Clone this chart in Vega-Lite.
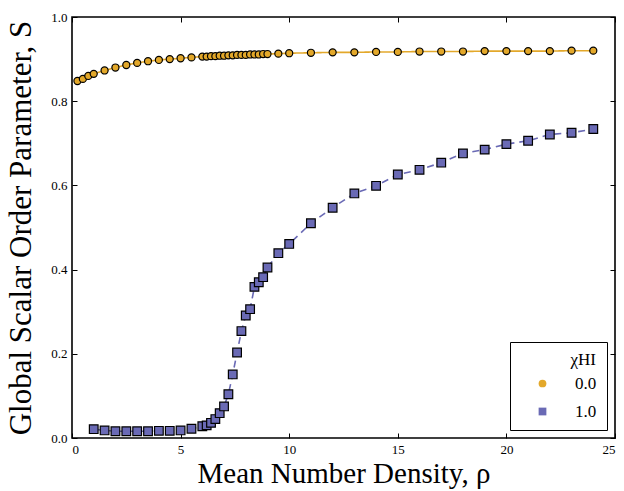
{
  "$schema": "https://vega.github.io/schema/vega-lite/v6.json",
  "width": 543,
  "height": 421,
  "autosize": "none",
  "padding": {"left": 72, "top": 17, "right": 9, "bottom": 53},
  "background": "white",
  "config": {
    "font": "Liberation Serif",
    "view": {"stroke": "black", "strokeWidth": 1.6},
    "axis": {
      "grid": false,
      "domain": false,
      "tickColor": "black",
      "tickSize": -5,
      "tickWidth": 1,
      "labelFont": "Liberation Serif",
      "labelFontSize": 13,
      "labelColor": "black",
      "titleFont": "Liberation Serif",
      "titleFontSize": 29,
      "titleFontWeight": "normal",
      "titleColor": "black"
    },
    "legend": {
      "labelFont": "Liberation Serif",
      "titleFont": "Liberation Serif"
    }
  },
  "data": {
    "values": [
      {"rho": 0.25, "S": 0.848, "chi": "0.0"},
      {"rho": 0.5, "S": 0.853, "chi": "0.0"},
      {"rho": 0.75, "S": 0.860, "chi": "0.0"},
      {"rho": 1.0, "S": 0.865, "chi": "0.0"},
      {"rho": 1.5, "S": 0.873, "chi": "0.0"},
      {"rho": 2.0, "S": 0.880, "chi": "0.0"},
      {"rho": 2.5, "S": 0.886, "chi": "0.0"},
      {"rho": 3.0, "S": 0.891, "chi": "0.0"},
      {"rho": 3.5, "S": 0.895, "chi": "0.0"},
      {"rho": 4.0, "S": 0.898, "chi": "0.0"},
      {"rho": 4.5, "S": 0.900, "chi": "0.0"},
      {"rho": 5.0, "S": 0.902, "chi": "0.0"},
      {"rho": 5.5, "S": 0.904, "chi": "0.0"},
      {"rho": 6.0, "S": 0.906, "chi": "0.0"},
      {"rho": 6.2, "S": 0.906, "chi": "0.0"},
      {"rho": 6.4, "S": 0.907, "chi": "0.0"},
      {"rho": 6.6, "S": 0.907, "chi": "0.0"},
      {"rho": 6.8, "S": 0.908, "chi": "0.0"},
      {"rho": 7.0, "S": 0.908, "chi": "0.0"},
      {"rho": 7.2, "S": 0.909, "chi": "0.0"},
      {"rho": 7.4, "S": 0.909, "chi": "0.0"},
      {"rho": 7.6, "S": 0.910, "chi": "0.0"},
      {"rho": 7.8, "S": 0.910, "chi": "0.0"},
      {"rho": 8.0, "S": 0.910, "chi": "0.0"},
      {"rho": 8.2, "S": 0.911, "chi": "0.0"},
      {"rho": 8.4, "S": 0.911, "chi": "0.0"},
      {"rho": 8.6, "S": 0.911, "chi": "0.0"},
      {"rho": 8.8, "S": 0.912, "chi": "0.0"},
      {"rho": 9.0, "S": 0.912, "chi": "0.0"},
      {"rho": 9.5, "S": 0.913, "chi": "0.0"},
      {"rho": 10, "S": 0.914, "chi": "0.0"},
      {"rho": 11, "S": 0.915, "chi": "0.0"},
      {"rho": 12, "S": 0.916, "chi": "0.0"},
      {"rho": 13, "S": 0.916, "chi": "0.0"},
      {"rho": 14, "S": 0.917, "chi": "0.0"},
      {"rho": 15, "S": 0.917, "chi": "0.0"},
      {"rho": 16, "S": 0.918, "chi": "0.0"},
      {"rho": 17, "S": 0.918, "chi": "0.0"},
      {"rho": 18, "S": 0.918, "chi": "0.0"},
      {"rho": 19, "S": 0.919, "chi": "0.0"},
      {"rho": 20, "S": 0.919, "chi": "0.0"},
      {"rho": 21, "S": 0.919, "chi": "0.0"},
      {"rho": 22, "S": 0.919, "chi": "0.0"},
      {"rho": 23, "S": 0.920, "chi": "0.0"},
      {"rho": 24, "S": 0.920, "chi": "0.0"},
      {"rho": 1.0, "S": 0.021, "chi": "1.0"},
      {"rho": 1.5, "S": 0.018, "chi": "1.0"},
      {"rho": 2.0, "S": 0.016, "chi": "1.0"},
      {"rho": 2.5, "S": 0.016, "chi": "1.0"},
      {"rho": 3.0, "S": 0.016, "chi": "1.0"},
      {"rho": 3.5, "S": 0.016, "chi": "1.0"},
      {"rho": 4.0, "S": 0.017, "chi": "1.0"},
      {"rho": 4.5, "S": 0.017, "chi": "1.0"},
      {"rho": 5.0, "S": 0.018, "chi": "1.0"},
      {"rho": 5.5, "S": 0.022, "chi": "1.0"},
      {"rho": 6.0, "S": 0.028, "chi": "1.0"},
      {"rho": 6.2, "S": 0.030, "chi": "1.0"},
      {"rho": 6.4, "S": 0.036, "chi": "1.0"},
      {"rho": 6.6, "S": 0.045, "chi": "1.0"},
      {"rho": 6.8, "S": 0.059, "chi": "1.0"},
      {"rho": 7.0, "S": 0.075, "chi": "1.0"},
      {"rho": 7.2, "S": 0.104, "chi": "1.0"},
      {"rho": 7.4, "S": 0.151, "chi": "1.0"},
      {"rho": 7.6, "S": 0.203, "chi": "1.0"},
      {"rho": 7.8, "S": 0.254, "chi": "1.0"},
      {"rho": 8.0, "S": 0.291, "chi": "1.0"},
      {"rho": 8.2, "S": 0.306, "chi": "1.0"},
      {"rho": 8.4, "S": 0.359, "chi": "1.0"},
      {"rho": 8.6, "S": 0.370, "chi": "1.0"},
      {"rho": 8.8, "S": 0.382, "chi": "1.0"},
      {"rho": 9.0, "S": 0.405, "chi": "1.0"},
      {"rho": 9.5, "S": 0.439, "chi": "1.0"},
      {"rho": 10, "S": 0.461, "chi": "1.0"},
      {"rho": 11, "S": 0.510, "chi": "1.0"},
      {"rho": 12, "S": 0.547, "chi": "1.0"},
      {"rho": 13, "S": 0.581, "chi": "1.0"},
      {"rho": 14, "S": 0.599, "chi": "1.0"},
      {"rho": 15, "S": 0.626, "chi": "1.0"},
      {"rho": 16, "S": 0.637, "chi": "1.0"},
      {"rho": 17, "S": 0.654, "chi": "1.0"},
      {"rho": 18, "S": 0.676, "chi": "1.0"},
      {"rho": 19, "S": 0.685, "chi": "1.0"},
      {"rho": 20, "S": 0.698, "chi": "1.0"},
      {"rho": 21, "S": 0.706, "chi": "1.0"},
      {"rho": 22, "S": 0.721, "chi": "1.0"},
      {"rho": 23, "S": 0.725, "chi": "1.0"},
      {"rho": 24, "S": 0.734, "chi": "1.0"}
    ]
  },
  "layer": [
    {
      "mark": {"type": "line", "strokeWidth": 1.6},
      "encoding": {
        "x": {"field": "rho", "type": "quantitative", "scale": {"domain": [0, 25], "nice": false, "zero": false},
              "axis": {"title": "Mean Number Density, ρ", "values": [0, 5, 10, 15, 20, 25], "labelPadding": 10, "titlePadding": 3}},
        "y": {"field": "S", "type": "quantitative", "scale": {"domain": [0, 1], "nice": false},
              "axis": {"title": "Global Scalar Order Parameter, S", "titleFontSize": 31, "values": [0, 0.2, 0.4, 0.6, 0.8, 1.0], "format": ".1f", "labelPadding": 10, "titlePadding": 13}},
        "stroke": {"field": "chi", "type": "nominal", "scale": {"domain": ["0.0", "1.0"], "range": ["#e3a82a", "#6a6ab5"]}, "legend": null},
        "strokeDash": {"field": "chi", "type": "nominal", "scale": {"domain": ["0.0", "1.0"], "range": [[1, 0], [7, 5]]}, "legend": null}
      }
    },
    {
      "mark": {"type": "point", "filled": true, "opacity": 1, "stroke": "black", "strokeWidth": 1.2},
      "encoding": {
        "x": {"field": "rho", "type": "quantitative", "axis": null},
        "y": {"field": "S", "type": "quantitative", "axis": null},
        "fill": {"field": "chi", "type": "nominal", "scale": {"range": ["#e3a82a", "#6a6ab5"]},
                 "legend": {
                   "title": "χHI", "orient": "bottom-right", "offset": 8,
                   "strokeColor": "black", "fillColor": "white", "padding": 10,
                   "titleFont": "Liberation Serif", "titleFontSize": 17, "titleFontWeight": "normal", "titleColor": "black", "titleAnchor": "end", "titlePadding": 6,
                   "labelFont": "Liberation Serif", "labelFontSize": 17, "labelColor": "black", "labelOffset": 24,
                   "rowPadding": 10, "symbolOffset": 14, "symbolSize": 60, "symbolStrokeColor": "black", "symbolStrokeWidth": 1.2
                 }},
        "shape": {"field": "chi", "type": "nominal", "scale": {"range": ["circle", "square"]},
                  "legend": {
                   "title": "χHI", "orient": "bottom-right", "offset": 8,
                   "strokeColor": "black", "fillColor": "white", "padding": 10,
                   "titleFont": "Liberation Serif", "titleFontSize": 17, "titleFontWeight": "normal", "titleColor": "black", "titleAnchor": "end", "titlePadding": 6,
                   "labelFont": "Liberation Serif", "labelFontSize": 17, "labelColor": "black", "labelOffset": 24,
                   "rowPadding": 10, "symbolOffset": 14, "symbolSize": 60, "symbolStrokeColor": "black", "symbolStrokeWidth": 1.2
                  }},
        "size": {"field": "chi", "type": "nominal", "scale": {"domain": ["0.0", "1.0"], "range": [50, 75]}, "legend": null}
      }
    },
    {
      "mark": {"type": "point", "opacity": 0},
      "encoding": {
        "x": {"field": "rho", "type": "quantitative", "axis": {"orient": "top", "labels": false, "title": null, "values": [0, 5, 10, 15, 20, 25]}},
        "y": {"field": "S", "type": "quantitative", "axis": {"orient": "right", "labels": false, "title": null, "values": [0, 0.2, 0.4, 0.6, 0.8, 1.0]}}
      }
    }
  ],
  "resolve": {"axis": {"x": "independent", "y": "independent"}}
}
